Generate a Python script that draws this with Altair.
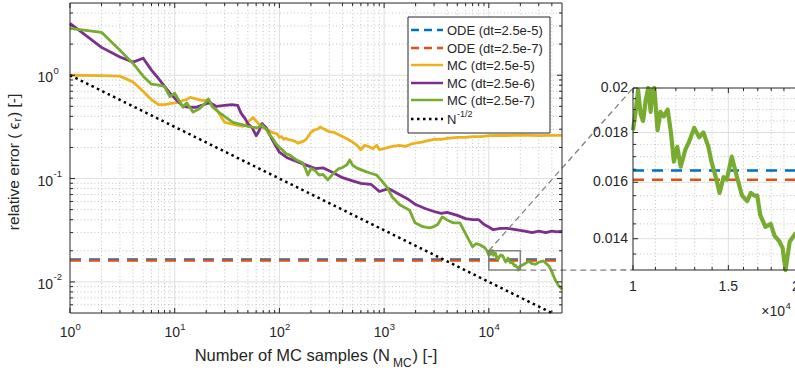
import math
import altair as alt
import pandas as pd

# ---------------- data ----------------
ode_labels = ["ODE (dt=2.5e-5)", "ODE (dt=2.5e-7)"]
ode_err = [0.01645, 0.0161]

mc_labels = ["MC (dt=2.5e-5)", "MC (dt=2.5e-6)", "MC (dt=2.5e-7)"]

n_yellow = [1, 2, 3, 4, 5, 6, 7, 8, 9, 10, 11, 12, 13, 14, 15, 16,
            18, 20, 22, 25, 28, 30, 34, 38, 42, 45, 48, 50, 53, 56, 60, 63, 66, 70, 75, 80, 85, 90, 95, 100,
            105, 110, 115, 120, 130, 140, 150, 160, 170, 180, 190, 200,
            215, 230, 245, 260, 270, 285, 300, 330, 370, 400, 450, 500, 550, 600, 650, 700, 780, 850, 900, 1000,
            1100, 1200, 1400, 1600, 1800, 2000, 2300, 2500, 3000, 3500, 4000, 5000, 6000, 7000, 8500, 10000,
            12000, 15000, 20000, 25000, 30000, 40000, 50000]
err_yellow = [1.0, 0.99, 0.98, 0.86, 0.70, 0.58, 0.52, 0.52, 0.53, 0.54, 0.55, 0.57, 0.58, 0.61, 0.60, 0.59,
              0.57, 0.57, 0.53, 0.47, 0.39, 0.35, 0.34, 0.33, 0.325, 0.32, 0.335, 0.355, 0.37, 0.39, 0.36, 0.34,
              0.33, 0.31, 0.30, 0.29, 0.28, 0.275, 0.27, 0.25,
              0.255, 0.24, 0.245, 0.24, 0.235, 0.23, 0.22, 0.225, 0.23, 0.24, 0.26, 0.28,
              0.295, 0.30, 0.315, 0.305, 0.30, 0.29, 0.285, 0.28, 0.265, 0.255, 0.24, 0.225, 0.21, 0.19, 0.21,
              0.205, 0.195, 0.21, 0.19, 0.195,
              0.20, 0.205, 0.21, 0.205, 0.215, 0.22, 0.225, 0.23, 0.24, 0.24, 0.245, 0.25, 0.25, 0.255, 0.255,
              0.26, 0.262, 0.261, 0.263, 0.262, 0.26, 0.262, 0.262]

n_purple = [1, 2, 3, 4, 5, 6, 7, 8, 9, 10, 12, 14, 16, 18, 20, 22, 25, 30, 35, 40,
            43, 47, 50, 55, 60, 64, 68, 75, 85, 100, 120, 150, 180, 220, 260, 320, 400, 500, 600, 750,
            900, 1100, 1400, 1700, 2000, 2500, 3000, 3500, 4000, 5000, 6000, 7000, 8000, 9000, 10000,
            11000, 13000, 15000, 18000, 22000, 26000, 30000, 35000, 40000, 45000, 50000]
err_purple = [3.17, 1.86, 1.50, 1.34, 1.46, 1.12, 0.93, 0.78, 0.67, 0.60, 0.50, 0.49, 0.49, 0.51, 0.53, 0.54,
              0.50, 0.51, 0.52, 0.51, 0.43, 0.38, 0.34, 0.31, 0.26, 0.29, 0.34, 0.31, 0.24, 0.18,
              0.158, 0.145, 0.135, 0.125, 0.127, 0.115, 0.102, 0.095, 0.090, 0.088,
              0.075, 0.080, 0.070, 0.063, 0.056, 0.051, 0.048, 0.046, 0.047, 0.044,
              0.041, 0.040, 0.040, 0.036, 0.034, 0.032, 0.033, 0.033, 0.032, 0.031,
              0.030, 0.031, 0.030, 0.031, 0.0305, 0.031]

n_green = [1, 2, 3, 4, 5, 6, 7, 8, 9, 10, 12, 13, 15, 17, 19, 21, 23, 25, 27, 29,
           32, 36, 40, 45, 50, 55, 62, 68, 75, 81, 86, 92, 100, 107, 115, 125, 135, 146, 155, 167,
           177, 187, 200, 218, 240, 260, 290, 310, 340, 370, 395, 420, 440, 470, 500, 545, 600, 680, 760, 850,
           950, 1060, 1200, 1400, 1600, 1750, 1970, 2350, 2700, 2900,
           3250, 3600, 3950, 4550, 5300, 6200, 7000, 7600, 8200, 9150, 9600]
err_green = [2.84, 2.60, 1.74, 1.30, 0.98, 0.82, 0.80, 0.78, 0.62, 0.67, 0.49, 0.54, 0.44, 0.47, 0.52, 0.59,
             0.49, 0.46, 0.43, 0.41, 0.38, 0.35, 0.34, 0.33, 0.32, 0.315, 0.31, 0.33, 0.30, 0.263,
             0.246, 0.22, 0.20, 0.189, 0.175, 0.169, 0.16, 0.151, 0.147, 0.142,
             0.125, 0.108, 0.125, 0.12, 0.108, 0.11, 0.097, 0.105, 0.116, 0.125,
             0.127, 0.132, 0.135, 0.151, 0.135, 0.127, 0.122, 0.116, 0.112, 0.108,
             0.095, 0.083, 0.066, 0.056, 0.052, 0.0495, 0.0373, 0.0342, 0.0334, 0.0338,
             0.036, 0.0426, 0.040, 0.0373, 0.0373, 0.0274, 0.0219, 0.0235, 0.0229, 0.0214, 0.0200]

# zoomed window 1e4 .. 2e4 (also part of the green series)
n_green_zoom = [10000, 10110, 10220, 10330, 10440, 10550, 10670, 10780, 10850, 10950,
                11100, 11240, 11400, 11590, 11750, 11900, 12070, 12250, 12500, 12690,
                12970, 13250, 13490, 13780, 13960, 14260, 14450, 14700, 14900, 15220,
                15560, 15900, 16250, 16500, 16750, 16960, 17180, 17560, 17960, 18250,
                18650, 18890, 19130, 19470, 20000]
err_green_zoom = [0.0181, 0.0189, 0.0199, 0.0188, 0.0185, 0.0194, 0.0200, 0.0189, 0.0199, 0.0200,
                  0.0181, 0.0189, 0.0187, 0.0190, 0.0180, 0.0168, 0.0174, 0.0166, 0.0173, 0.0176,
                  0.0182, 0.0178, 0.0180, 0.0174, 0.0168, 0.0161, 0.0156, 0.0162, 0.0161, 0.0170,
                  0.0162, 0.0155, 0.0153, 0.0156, 0.0155, 0.0155, 0.0148, 0.0144, 0.0145, 0.0141,
                  0.0139, 0.0137, 0.0130, 0.0139, 0.0142]

n_green_tail = [21000, 22000, 24000, 26000, 28000, 30000, 33000, 36000, 38000, 40000, 43000, 46000, 50000]
err_green_tail = [0.0146, 0.0150, 0.0158, 0.0150, 0.0148, 0.0155, 0.0160, 0.0148, 0.0140, 0.0125,
                  0.0105, 0.0093, 0.0085]

n_ref = [1, 40000]
err_ref = [1.0, 0.005]
ref_label = "N"
ref_exp = "-1/2"

x_dec = [1, 10, 100, 1000, 10000]
x_dec_exp = ["0", "1", "2", "3", "4"]
y_dec = [0.01, 0.1, 1]
y_dec_exp = ["-2", "-1", "0"]

zoom_x = [1e4, 2e4]
zoom_y = [0.013, 0.02]
inset_x_ticks = [10000, 15000, 20000]
inset_x_labels = ["1", "1.5", "2"]
inset_y_ticks = [0.014, 0.016, 0.018, 0.02]
inset_y_labels = ["0.014", "0.016", "0.018", "0.02"]
inset_x_minor = [11000, 12000, 13000, 14000, 16000, 17000, 18000, 19000]
inset_y_minor = [0.0135, 0.0145, 0.015, 0.0155, 0.0165, 0.017, 0.0175, 0.0185, 0.019, 0.0195]

# ---------------- layout / style ----------------
W, H = 492, 310                 # main plot area
IX0, IX1, IY0, IY1 = 563, 726, 85, 267   # inset plot area (same coordinate frame)
FONT = "Liberation Sans"
AX = "#262626"
BLUE, ORANGE, YELLOW, PURPLE, GREEN = "#0072BD", "#D95319", "#EDB120", "#7E2F8E", "#77AC30"
GRID_MAJ, GRID_MIN = "#dedede", "#c4c4c4"
DASH = [11, 8]
DOT = [2.5, 3.5]
LW = 2.8

XD = [1, 50000]
YD = [0.005, 5]
xm = alt.Scale(type="log", domain=XD, range=[0, W], nice=False)
ym = alt.Scale(type="log", domain=YD, range=[H, 0], nice=False)
xi = alt.Scale(type="log", domain=zoom_x, range=[IX0, IX1], nice=False)
yi = alt.Scale(type="log", domain=zoom_y, range=[IY1, IY0], nice=False)


def px_main(n):
    return W * (math.log10(n) - math.log10(XD[0])) / (math.log10(XD[1]) - math.log10(XD[0]))


def py_main(e):
    return H * (math.log10(YD[1]) - math.log10(e)) / (math.log10(YD[1]) - math.log10(YD[0]))


def dummy():
    return alt.Chart(pd.DataFrame({"a": [0]}))


def vrules(vals, sc, y0, y1, **mk):
    return alt.Chart(pd.DataFrame({"v": vals})).mark_rule(**mk).encode(
        x=alt.X("v:Q", scale=sc, axis=None), y=alt.value(y0), y2=alt.value(y1))


def hrules(vals, sc, x0, x1, **mk):
    return alt.Chart(pd.DataFrame({"v": vals})).mark_rule(**mk).encode(
        y=alt.Y("v:Q", scale=sc, axis=None), x=alt.value(x0), x2=alt.value(x1))


def series(n, e, sx, sy, color, width, dash=None):
    mk = dict(color=color, strokeWidth=width, strokeJoin="round")
    if dash:
        mk["strokeDash"] = dash
        mk["strokeCap"] = "butt"
    return alt.Chart(pd.DataFrame({"n": n, "e": e})).mark_line(**mk).encode(
        x=alt.X("n:Q", scale=sx, axis=None), y=alt.Y("e:Q", scale=sy, axis=None))


def label(text, x, y, size=14, align="left", angle=0, style=None):
    mk = dict(text=text, font=FONT, fontSize=size, align=align, baseline="middle", color=AX)
    if angle:
        mk["angle"] = angle
    if style:
        mk["fontStyle"] = style
    return dummy().mark_text(**mk).encode(x=alt.value(x), y=alt.value(y))


L = []

# ---------- main panel ----------
x_major = [10, 100, 1000, 10000]
x_minor = [m * 10 ** k for k in range(5) for m in range(2, 10) if m * 10 ** k < XD[1]]
y_major = [0.01, 0.1, 1]
y_minor = [round(m * 10.0 ** k, 6) for k in range(-3, 1) for m in range(2, 10)
           if YD[0] < m * 10.0 ** k < YD[1]]

L.append(vrules(x_minor, xm, 0, H, stroke=GRID_MIN, strokeWidth=1, strokeDash=[1, 2.5]))
L.append(hrules(y_minor, ym, 0, W, stroke=GRID_MIN, strokeWidth=1, strokeDash=[1, 2.5]))
L.append(vrules(x_major, xm, 0, H, stroke=GRID_MAJ, strokeWidth=1))
L.append(hrules(y_major, ym, 0, W, stroke=GRID_MAJ, strokeWidth=1))

# ODE reference levels
L.append(alt.Chart(pd.DataFrame({"e": ode_err[:1]})).mark_rule(
    color=BLUE, strokeWidth=2.5, strokeDash=DASH).encode(
    y=alt.Y("e:Q", scale=ym, axis=None), x=alt.value(0), x2=alt.value(W)))
L.append(alt.Chart(pd.DataFrame({"e": ode_err[1:]})).mark_rule(
    color=ORANGE, strokeWidth=2.5, strokeDash=DASH).encode(
    y=alt.Y("e:Q", scale=ym, axis=None), x=alt.value(0), x2=alt.value(W)))

# MC curves
L.append(series(n_yellow, err_yellow, xm, ym, YELLOW, LW))
L.append(series(n_purple, err_purple, xm, ym, PURPLE, LW))
L.append(series(n_green + n_green_zoom + n_green_tail, err_green + err_green_zoom + err_green_tail,
                xm, ym, GREEN, LW))
L.append(series(n_ref, err_ref, xm, ym, "#000000", 2.5, DOT))

# zoom window rectangle + connectors
L.append(alt.Chart(pd.DataFrame({"x0": [zoom_x[0]], "x1": [zoom_x[1]], "y0": [zoom_y[0]], "y1": [zoom_y[1]]}))
         .mark_rect(fillOpacity=0, stroke="#808080", strokeWidth=1.5)
         .encode(x=alt.X("x0:Q", scale=xm, axis=None), x2="x1:Q",
                 y=alt.Y("y0:Q", scale=ym, axis=None), y2="y1:Q"))
L.append(dummy().mark_rule(stroke="#808080", strokeWidth=1.3, strokeDash=[6, 4]).encode(
    x=alt.value(px_main(zoom_x[0])), y=alt.value(py_main(zoom_y[1])), x2=alt.value(IX0), y2=alt.value(IY0)))
L.append(dummy().mark_rule(stroke="#808080", strokeWidth=1.3, strokeDash=[6, 4]).encode(
    x=alt.value(px_main(zoom_x[1])), y=alt.value(py_main(zoom_y[0])), x2=alt.value(IX0), y2=alt.value(IY1)))

# ticks (inward, all four sides)
for vals, ln in ((x_dec, 5), (x_minor, 3)):
    L.append(vrules(vals, xm, H, H - ln, stroke=AX, strokeWidth=1))
    L.append(vrules(vals, xm, 0, ln, stroke=AX, strokeWidth=1))
for vals, ln in ((y_major, 5), (y_minor, 3)):
    L.append(hrules(vals, ym, 0, ln, stroke=AX, strokeWidth=1))
    L.append(hrules(vals, ym, W, W - ln, stroke=AX, strokeWidth=1))

# frame
L.append(dummy().mark_rect(fillOpacity=0, stroke=AX, strokeWidth=1).encode(
    x=alt.value(0), x2=alt.value(W), y=alt.value(0), y2=alt.value(H)))

# tick labels
xl = pd.DataFrame({"v": x_dec, "e": x_dec_exp})
L.append(alt.Chart(xl).mark_text(text="10", font=FONT, fontSize=14, align="right", baseline="middle",
                                 dx=5.3, color=AX).encode(
    x=alt.X("v:Q", scale=xm, axis=None), y=alt.value(H + 19.5)))
L.append(alt.Chart(xl).mark_text(font=FONT, fontSize=9.5, align="left", baseline="middle",
                                 dx=5.6, color=AX).encode(
    x=alt.X("v:Q", scale=xm, axis=None), y=alt.value(H + 14), text="e:N"))
yl = pd.DataFrame({"v": y_dec, "e": y_dec_exp})
L.append(alt.Chart(yl).mark_text(text="10", font=FONT, fontSize=14, align="right", baseline="middle",
                                 dy=3, color=AX).encode(
    y=alt.Y("v:Q", scale=ym, axis=None), x=alt.value(-17)))
L.append(alt.Chart(yl).mark_text(font=FONT, fontSize=9.5, align="left", baseline="middle",
                                 dy=-4.5, color=AX).encode(
    y=alt.Y("v:Q", scale=ym, axis=None), x=alt.value(-16.5), text="e:N"))

# axis titles
L.append(label("Number of MC samples (N", 320, H + 43, size=16.5, align="right"))
L.append(label("MC", 323, H + 50, size=12))
L.append(label(") [-]", 342.5, H + 43, size=16.5))
# y title, read bottom-to-top; pieces joined end to start
YT_END = 119.5          # where "relative error ( ϵ" ends (its top)
YT_X = -56
L.append(label("relative error ( \u03f5", YT_X, YT_END, size=15.5, align="right", angle=270))
L.append(label("r", YT_X + 4, YT_END - 1, size=11, align="left", angle=270))
L.append(label(" ) [-]", YT_X, YT_END - 5.5, size=15.5, align="left", angle=270))

# legend
LX0, LX1, LY0, LY1 = 338, 480, 14, 130
rows = [27, 45, 62, 80, 97, 116]
L.append(dummy().mark_rect(fill="white", stroke=AX, strokeWidth=1).encode(
    x=alt.value(LX0), x2=alt.value(LX1), y=alt.value(LY0), y2=alt.value(LY1)))
leg_styles = [(BLUE, DASH), (ORANGE, DASH), (YELLOW, None), (PURPLE, None), (GREEN, None), ("#000000", DOT)]
leg_text = ode_labels + mc_labels + [ref_label]
for (col, dash), ry, txt in zip(leg_styles, rows, leg_text):
    mk = dict(color=col, strokeWidth=2.5)
    if dash:
        mk["strokeDash"] = dash if dash is DOT else [8, 5]
    L.append(dummy().mark_rule(**mk).encode(x=alt.value(341), x2=alt.value(373),
                                            y=alt.value(ry), y2=alt.value(ry)))
    L.append(label(txt, 377, ry + 1, size=13))
L.append(label(ref_exp, 387, rows[-1] - 5, size=9))

# ---------- inset panel ----------
L.append(vrules(inset_x_minor, xi, IY0, IY1, stroke=GRID_MIN, strokeWidth=1, strokeDash=[1, 2.5]))
L.append(hrules(inset_y_minor, yi, IX0, IX1, stroke=GRID_MIN, strokeWidth=1, strokeDash=[1, 2.5]))
L.append(vrules([15000], xi, IY0, IY1, stroke=GRID_MAJ, strokeWidth=1))
L.append(hrules(inset_y_ticks[:-1], yi, IX0, IX1, stroke=GRID_MAJ, strokeWidth=1))

L.append(alt.Chart(pd.DataFrame({"e": ode_err[:1]})).mark_rule(
    color=BLUE, strokeWidth=2.5, strokeDash=DASH).encode(
    y=alt.Y("e:Q", scale=yi, axis=None), x=alt.value(IX0), x2=alt.value(IX1)))
L.append(alt.Chart(pd.DataFrame({"e": ode_err[1:]})).mark_rule(
    color=ORANGE, strokeWidth=2.5, strokeDash=DASH).encode(
    y=alt.Y("e:Q", scale=yi, axis=None), x=alt.value(IX0), x2=alt.value(IX1)))
L.append(series(n_green_zoom, err_green_zoom, xi, yi, GREEN, 4.2))

for vals, ln in ((inset_x_ticks, 5), (inset_x_minor, 3)):
    L.append(vrules(vals, xi, IY1, IY1 - ln, stroke=AX, strokeWidth=1))
    L.append(vrules(vals, xi, IY0, IY0 + ln, stroke=AX, strokeWidth=1))
for vals, ln in ((inset_y_ticks, 5), (inset_y_minor, 3)):
    L.append(hrules(vals, yi, IX0, IX0 + ln, stroke=AX, strokeWidth=1))
L.append(dummy().mark_rect(fillOpacity=0, stroke=AX, strokeWidth=1).encode(
    x=alt.value(IX0), x2=alt.value(IX1), y=alt.value(IY0), y2=alt.value(IY1)))

L.append(alt.Chart(pd.DataFrame({"v": inset_y_ticks, "t": inset_y_labels})).mark_text(
    font=FONT, fontSize=14, align="right", baseline="middle", color=AX).encode(
    y=alt.Y("v:Q", scale=yi, axis=None), x=alt.value(IX0 - 5), text="t:N"))
L.append(alt.Chart(pd.DataFrame({"v": inset_x_ticks, "t": inset_x_labels})).mark_text(
    font=FONT, fontSize=14, align="center", baseline="middle", color=AX).encode(
    x=alt.X("v:Q", scale=xi, axis=None), y=alt.value(IY1 + 17), text="t:N"))
L.append(label("\u00d710", 715, IY1 + 42, size=14, align="right"))
L.append(label("4", 715.5, IY1 + 36, size=9.5))

chart = alt.layer(*L).resolve_scale(x="independent", y="independent").properties(
    width=725, height=371,
    autosize=alt.AutoSizeParams(type="none"),
    padding={"left": 70, "top": 3, "right": 0, "bottom": 0},
    background="white",
).configure_view(stroke=None)

chart.save("out.html", embed_options={"renderer": "svg", "actions": False})
